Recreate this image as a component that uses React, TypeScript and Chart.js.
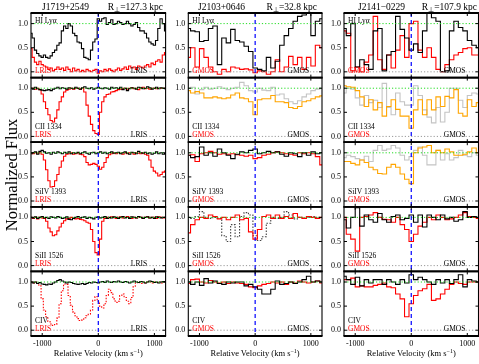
import React, { useEffect, useRef } from 'react';
import { Chart, registerables } from 'chart.js';
Chart.register(...registerables);

const FONT = '"Liberation Serif", "Times New Roman", serif';

// ---------- axis values ----------
const velFine = [
  -1200, -1160, -1120, -1080, -1040, -1000, -960, -920, -880, -840,
  -800, -760, -720, -680, -640, -600, -560, -520, -480, -440,
  -400, -360, -320, -280, -240, -200, -160, -120, -80, -40,
  0, 40, 80, 120, 160, 200, 240, 280, 320, 360,
  400, 440, 480, 520, 560, 600, 640, 680, 720, 760,
  800, 840, 880, 920, 960, 1000, 1040, 1080, 1120, 1160,
  1200,
];
const velCoarse = [
  -1200, -1120, -1040, -960, -880, -800, -720, -640, -560, -480,
  -400, -320, -240, -160, -80, 0, 80, 160, 240, 320,
  400, 480, 560, 640, 720, 800, 880, 960, 1040, 1120,
  1200,
];
const xTicks = [-1000, 0, 1000];
const yTicks = [0, 0.5, 1.0];
const sightlines = ['J1719+2549', 'J2103+0646', 'J2141\u22120229'];
const impactKpc = ['127.3', '32.8', '107.9'];
const lineNames = ['HI Ly\u03b1', 'CII 1334', 'SiIV 1393', 'SiII 1526', 'CIV'];
const instruments = ['LRIS', 'GMOS', 'GMOS'];

// ---------- J1719+2549 (fine grid) ----------
const j1719_HI_black = [
  0.80, 0.70, 0.45, 0.38, 0.33, 0.30, 0.35, 0.30, 0.28, 0.33,
  0.40, 0.45, 0.55, 0.60, 0.85, 0.95, 0.90, 1.00, 0.95, 0.80,
  0.75, 0.62, 0.60, 0.48, 0.30, 0.28, 0.25, 0.45, 0.62, 0.68,
  1.10, 1.05, 1.10, 1.12, 0.98, 1.02, 1.08, 0.98, 1.00, 1.05,
  1.02, 0.98, 1.00, 1.05, 1.00, 0.95, 0.98, 1.02, 0.92, 0.85,
  0.85, 0.80, 0.70, 0.62, 0.58, 0.55, 0.65, 0.90, 1.10, 1.00,
  0.85,
];
const j1719_HI_red = [
  0.48, 0.30, 0.20, 0.15, 0.22, 0.15, 0.12, 0.10, 0.05, 0.08,
  0.02, 0.05, 0.10, 0.05, 0.08, 0.03, 0.10, 0.05, 0.00, 0.08,
  0.02, 0.05, 0.00, 0.03, 0.00, 0.05, 0.02, 0.00, 0.03, 0.05,
  -0.03, 0.02, 0.00, 0.05, 0.02, 0.06, 0.03, 0.00, 0.04, 0.08,
  0.03, 0.06, 0.10, 0.05, 0.12, 0.08, 0.10, 0.05, 0.12, 0.10,
  0.08, 0.12, 0.15, 0.10, 0.18, 0.15, 0.22, 0.25, 0.20, 0.35,
  0.40,
];
const j1719_CII_black = [
  1.00, 0.98, 1.02, 0.99, 0.97, 0.96, 0.95, 0.96, 0.97, 0.95,
  0.98, 1.00, 1.02, 0.99, 1.01, 1.00, 0.98, 1.01, 1.00, 0.99,
  1.02, 1.00, 0.98, 1.01, 1.03, 1.00, 0.99, 1.01, 0.98, 1.00,
  1.02, 1.00, 0.99, 1.01, 1.00, 0.98, 1.02, 1.00, 1.01, 0.99,
  1.02, 0.97, 1.00, 0.95, 0.99, 1.01, 1.00, 0.98, 1.02, 1.01,
  0.99, 1.00, 1.03, 1.01, 0.98, 1.00, 1.02, 0.99, 1.01, 1.00,
  0.99,
];
const j1719_CII_red = [
  1.00, 1.00, 0.98, 1.00, 0.97, 0.88, 0.72, 0.58, 0.45, 0.33,
  0.30, 0.38, 0.55, 0.72, 0.82, 0.92, 0.96, 0.98, 1.00, 0.98,
  1.00, 1.00, 0.98, 1.00, 0.92, 0.65, 0.42, 0.25, 0.12, 0.06,
  0.04, 0.50, 0.72, 0.82, 0.87, 0.88, 0.92, 0.93, 0.95, 0.97,
  0.98, 0.99, 1.00, 0.98, 1.00, 1.01, 0.99, 1.00, 0.97, 1.00,
  1.02, 0.99, 1.00, 0.98, 1.00, 1.00, 0.99, 1.00, 1.00, 1.00,
  1.00,
];
const j1719_SiIV_black = [
  0.98, 1.00, 1.02, 0.97, 1.03, 1.05, 1.02, 0.99, 1.00, 0.97,
  1.01, 0.99, 1.02, 1.00, 0.98, 1.01, 0.99, 1.02, 0.98, 1.00,
  0.99, 1.01, 0.98, 1.00, 1.02, 0.99, 0.97, 1.00, 1.01, 0.98,
  1.00, 1.02, 0.99, 1.01, 0.98, 1.00, 1.02, 0.99, 1.00, 1.01,
  0.98, 1.00, 1.02, 0.99, 0.97, 1.01, 1.00, 0.98, 1.03, 1.00,
  0.99, 1.01, 0.98, 1.00, 0.97, 0.99, 1.02, 0.98, 1.00, 0.97,
  0.99,
];
const j1719_SiIV_red = [
  1.00, 0.98, 1.00, 0.99, 1.00, 0.97, 0.85, 0.65, 0.42, 0.29,
  0.30, 0.42, 0.55, 0.70, 0.83, 0.93, 0.97, 0.98, 1.00, 0.97,
  0.98, 1.00, 0.97, 0.96, 0.92, 0.80, 0.75, 0.76, 0.78, 0.76,
  0.72, 0.66, 0.70, 0.80, 0.90, 0.96, 0.98, 1.00, 0.98, 1.00,
  0.99, 0.97, 1.00, 0.98, 1.00, 1.00, 0.97, 1.00, 0.99, 0.98,
  1.00, 0.97, 0.95, 0.85, 0.70, 0.62, 0.58, 0.52, 0.55, 0.60,
  0.62,
];
const j1719_SiII_black = [
  1.00, 0.99, 1.01, 0.98, 1.00, 1.02, 0.99, 1.00, 0.98, 1.01,
  1.00, 0.99, 1.02, 1.00, 0.98, 0.99, 1.01, 0.96, 0.95, 0.98,
  1.00, 1.02, 0.99, 1.00, 1.01, 0.98, 1.00, 0.99, 0.97, 1.00,
  1.01, 0.99, 1.00, 1.02, 0.98, 1.00, 0.99, 1.01, 1.00, 0.98,
  1.00, 1.02, 0.99, 1.00, 0.98, 1.01, 1.00, 0.99, 1.02, 1.00,
  0.98, 1.00, 1.01, 0.99, 1.00, 0.98, 1.01, 1.00, 0.99, 1.00,
  1.00,
];
const j1719_SiII_red = [
  1.00, 0.98, 1.00, 0.97, 1.00, 0.99, 0.98, 0.92, 0.78, 0.70,
  0.62, 0.64, 0.72, 0.80, 0.88, 0.93, 0.97, 0.98, 1.00, 0.98,
  0.97, 0.98, 0.96, 0.95, 0.93, 0.90, 0.88, 0.75, 0.50, 0.27,
  0.22, 0.55, 0.92, 0.98, 1.00, 0.99, 1.01, 1.00, 0.98, 1.00,
  1.01, 0.99, 1.00, 1.02, 1.00, 0.98, 1.00, 0.99, 1.01, 1.00,
  0.98, 1.00, 1.01, 0.99, 1.00, 1.00, 0.98, 1.01, 1.00, 0.99,
  1.00,
];
const j1719_CIV_black = [
  1.00, 0.98, 1.00, 0.97, 0.99, 0.96, 0.95, 0.94, 0.96, 0.95,
  0.98, 1.00, 1.03, 1.05, 1.02, 1.00, 0.98, 1.00, 0.99, 0.97,
  0.96, 0.95, 0.96, 0.97, 0.95, 0.97, 0.99, 0.98, 1.00, 0.99,
  0.98, 1.00, 1.01, 0.99, 1.02, 1.00, 0.99, 1.01, 1.00, 1.02,
  1.00, 0.99, 1.01, 1.00, 0.98, 1.00, 1.02, 1.00, 0.99, 1.01,
  1.00, 0.98, 1.00, 1.02, 1.01, 0.99, 1.00, 0.98, 1.00, 1.01,
  1.00,
];
const j1719_CIV_red = [
  1.00, 0.98, 1.00, 0.97, 0.92, 0.65, 0.42, 0.28, 0.18, 0.13,
  0.10, 0.12, 0.25, 0.55, 0.82, 0.96, 0.95, 0.72, 0.52, 0.38,
  0.30, 0.24, 0.20, 0.21, 0.26, 0.30, 0.33, 0.42, 0.62, 0.70,
  0.60, 0.50, 0.46, 0.55, 0.72, 0.85, 0.78, 0.65, 0.58, 0.60,
  0.72, 0.75, 0.68, 0.60, 0.55, 0.68, 0.90, 0.98, 1.00, 0.97,
  1.00, 0.98, 1.00, 1.00, 0.98, 1.00, 0.99, 1.00, 0.98, 1.00,
  1.00,
];

// ---------- J2103+0646 (coarse grid) ----------
const j2103_HI_black = [
  0.90, 0.85, 0.83, 0.63, 0.65, 0.90, 0.95, 0.15, 0.70, 0.60,
  0.88, 0.65, 0.62, 0.53, 0.42, 0.08, 0.05, 0.02, 0.30, 0.08,
  0.22, 0.55, 0.75, 0.90, 1.05, 1.15, 1.18, 1.30, 0.75, 1.05,
  1.10,
];
const j2103_HI_red = [
  0.30, 0.50, 0.10, 0.48, 0.30, 0.10, 0.00, -0.05, 0.05, 0.00,
  0.10, 0.08, 0.05, 0.06, 0.04, -0.02, 0.02, 0.00, -0.05, 0.00,
  0.25, 0.00, 0.10, 0.32, 0.15, 0.30, 0.05, 0.30, 0.12, 0.55,
  0.50,
];
const j2103_CII_orange = [
  0.95, 0.90, 0.93, 0.90, 0.80, 0.80, 0.82, 0.80, 0.78, 0.80,
  0.86, 0.90, 0.80, 0.78, 0.72, 0.45, 0.76, 0.78, 0.78, 0.85,
  0.72, 0.72, 0.70, 0.60, 0.58, 0.62, 0.72, 0.74, 0.78, 0.82,
  0.84,
];
const j2103_CII_grey = [
  1.00, 1.02, 0.88, 0.97, 1.02, 0.98, 1.00, 1.03, 1.00, 0.97,
  1.00, 1.02, 1.12, 1.05, 0.95, 0.92, 1.00, 0.96, 0.95, 1.02,
  0.86, 0.88, 0.78, 0.72, 0.68, 0.74, 0.82, 0.88, 0.95, 0.98,
  1.00,
];
const j2103_SiIV_black = [
  0.95, 0.90, 0.92, 1.12, 0.95, 1.00, 0.93, 1.08, 1.00, 0.95,
  0.88, 0.97, 1.02, 1.00, 1.05, 1.08, 0.98, 1.00, 1.03, 1.00,
  1.02, 0.97, 0.93, 1.00, 0.98, 0.92, 1.00, 0.95, 1.02, 0.98,
  1.00,
];
const j2103_SiIV_red = [
  0.95, 0.96, 0.82, 0.98, 1.00, 1.03, 1.00, 0.97, 0.98, 0.97,
  0.98, 0.96, 0.95, 0.93, 0.95, 0.88, 0.90, 0.95, 0.97, 1.00,
  1.02, 1.00, 0.98, 0.97, 0.95, 1.00, 0.98, 1.00, 0.98, 0.92,
  0.75,
];
const j2103_SiII_red = [
  0.68, 0.85, 0.95, 1.00, 0.98, 1.05, 1.02, 0.97, 1.00, 0.95,
  1.00, 1.05, 0.95, 0.98, 0.70, 0.55, 0.75, 1.02, 1.05, 0.98,
  1.05, 0.98, 1.02, 0.98, 1.08, 1.00, 0.98, 1.02, 1.00, 0.98,
  1.00,
];
const j2103_SiII_dotted = [
  1.00, 0.98, 1.02, 1.12, 1.00, 0.98, 1.00, 0.98, 0.62, 0.50,
  0.85, 0.60, 1.02, 1.10, 1.05, 0.62, 0.52, 0.60, 0.88, 1.00,
  0.98, 1.00, 1.12, 1.05, 0.97, 1.00, 0.98, 1.00, 1.02, 1.00,
  1.00,
];
const j2103_CIV_black = [
  1.00, 0.95, 1.00, 0.93, 1.07, 0.98, 1.02, 0.97, 0.95, 1.00,
  0.98, 1.00, 1.00, 0.92, 0.95, 0.90, 0.85, 0.75, 0.75, 0.85,
  1.02, 0.95, 0.97, 1.00, 0.97, 1.00, 1.05, 1.12, 1.00, 1.02,
  1.00,
];
const j2103_CIV_red = [
  0.97, 1.05, 1.06, 1.00, 0.98, 1.03, 1.00, 0.98, 1.00, 0.97,
  1.00, 0.98, 0.97, 0.95, 0.90, 0.88, 0.92, 0.95, 0.97, 1.00,
  0.98, 1.00, 0.95, 1.00, 0.98, 1.02, 1.00, 0.98, 1.00, 1.02,
  0.98,
];

// ---------- J2141-0229 (coarse grid) ----------
const j2141_HI_black = [
  0.90, 0.75, 1.00, 0.10, 0.25, 0.15, 0.05, 0.85, 0.90, 0.02,
  0.35, 0.42, 1.15, 0.88, 0.70, 0.45, 0.58, 0.40, 0.85, 1.22,
  1.12, 1.05, 0.00, 0.02, 0.85, 1.05, 0.92, 0.85, 0.65, 0.55,
  0.50,
];
const j2141_HI_red = [
  0.85, 0.80, 0.02, 0.10, 0.00, 0.20, 0.35, 1.15, 0.25, 0.05,
  0.35, 0.08, 0.45, 0.75, 0.30, 1.00, 1.05, 0.45, 0.30, 0.50,
  0.30, 0.05, 0.00, 0.15, 0.25, 0.35, 0.40, 0.48, 0.50, 0.35,
  0.35,
];
const j2141_CII_orange = [
  1.05, 1.03, 1.02, 0.95, 0.82, 0.62, 0.76, 0.55, 0.70, 0.42,
  0.62, 0.76, 0.56, 0.42, 0.42, 0.17, 0.55, 0.76, 0.45, 0.76,
  0.55, 0.82, 0.62, 0.83, 0.80, 0.97, 0.48, 0.42, 0.76, 0.62,
  0.70,
];
const j2141_CII_grey = [
  0.90, 1.00, 0.98, 0.80, 0.65, 0.85, 0.70, 0.75, 0.60, 1.10,
  0.60, 0.45, 0.90, 0.72, 0.65, 0.65, 1.05, 0.85, 0.55, 0.40,
  0.28, 0.60, 0.30, 0.50, 1.00, 1.00, 0.75, 0.60, 0.85, 0.90,
  0.88,
];
const j2141_SiIV_orange = [
  0.82, 0.82, 0.78, 0.75, 0.85, 0.80, 0.70, 0.65, 0.57, 0.56,
  0.70, 0.76, 0.70, 0.56, 0.45, 0.36, 1.00, 1.10, 1.12, 1.15,
  1.00, 1.05, 1.00, 1.08, 1.02, 0.95, 0.95, 0.97, 1.02, 1.10,
  1.00,
];
const j2141_SiIV_grey = [
  0.90, 0.95, 0.92, 0.88, 0.85, 0.93, 0.82, 1.05, 1.15, 1.05,
  1.08, 1.15, 1.10, 0.95, 0.85, 0.92, 1.05, 1.12, 0.95, 0.75,
  0.75, 1.05, 0.85, 0.98, 0.85, 0.90, 1.05, 0.95, 0.92, 1.00,
  0.95,
];
const j2141_SiII_black = [
  0.95, 0.78, 1.00, 1.20, 0.82, 1.05, 0.95, 0.90, 1.08, 0.95,
  0.90, 1.02, 1.05, 0.95, 0.98, 1.05, 0.90, 1.05, 0.80, 1.05,
  1.00, 0.95, 1.05, 0.97, 1.00, 0.92, 0.95, 1.12, 1.00, 1.02,
  1.00,
];
const j2141_SiII_red = [
  1.00, 0.65, 0.55, 0.30, 1.00, 1.02, 1.05, 1.10, 1.00, 0.96,
  0.95, 0.90, 1.00, 0.85, 0.75, 0.50, 0.65, 0.82, 0.90, 1.00,
  0.95, 1.05, 1.00, 0.95, 0.97, 1.00, 1.05, 1.10, 1.02, 1.00,
  0.98,
];
const j2141_CIV_black = [
  1.12, 1.05, 0.95, 1.10, 0.92, 1.05, 0.98, 1.05, 1.05, 0.95,
  1.05, 1.00, 0.95, 1.05, 0.98, 1.15, 1.05, 1.10, 1.05, 1.00,
  0.95, 1.05, 0.98, 1.05, 0.97, 1.05, 1.15, 0.90, 1.05, 1.02,
  1.00,
];
const j2141_CIV_red = [
  1.05, 1.05, 1.08, 0.90, 0.92, 0.90, 0.90, 0.93, 0.95, 0.98,
  0.90, 0.88, 0.75, 0.65, 0.28, 0.55, 0.72, 0.82, 0.86, 0.95,
  0.62, 0.65, 0.75, 0.85, 0.95, 1.00, 0.97, 0.95, 1.00, 1.00,
  1.00,
];

// ---------- styles / layout ----------
const BLACK = '#000000';
const RED = '#ff0000';
const ORANGE = '#ffa500';
const GREY = '#c4c4c4';
const DOTGREY = '#444444';
const DOT = [1.5, 1.5];

type Series = { data: number[]; color: string; dash?: number[] };
type Column = {
  key: string;
  canvasLeft: number;
  canvasWidth: number;
  axisWidth: number;
  padRight: number;
  titleLeft: number;
  rRight: number;
  vel: number[];
  panels: Series[][];
};

const columns: Column[] = [
  {
    key: 'c0', canvasLeft: 0, canvasWidth: 170, axisWidth: 31, padRight: 4.4,
    titleLeft: 42, rRight: 163, vel: velFine,
    panels: [
      [{ data: j1719_HI_black, color: BLACK }, { data: j1719_HI_red, color: RED }],
      [{ data: j1719_CII_black, color: BLACK }, { data: j1719_CII_red, color: RED }],
      [{ data: j1719_SiIV_black, color: BLACK }, { data: j1719_SiIV_red, color: RED }],
      [{ data: j1719_SiII_black, color: BLACK }, { data: j1719_SiII_red, color: RED }],
      [{ data: j1719_CIV_black, color: BLACK }, { data: j1719_CIV_red, color: RED, dash: DOT }],
    ],
  },
  {
    key: 'c1', canvasLeft: 168, canvasWidth: 160, axisWidth: 20.3, padRight: 6,
    titleLeft: 198, rRight: 317, vel: velCoarse,
    panels: [
      [{ data: j2103_HI_black, color: BLACK }, { data: j2103_HI_red, color: RED }],
      [{ data: j2103_CII_orange, color: ORANGE }, { data: j2103_CII_grey, color: GREY }],
      [{ data: j2103_SiIV_black, color: BLACK }, { data: j2103_SiIV_red, color: RED }],
      [{ data: j2103_SiII_red, color: RED }, { data: j2103_SiII_dotted, color: DOTGREY, dash: DOT }],
      [{ data: j2103_CIV_black, color: BLACK }, { data: j2103_CIV_red, color: RED }],
    ],
  },
  {
    key: 'c2', canvasLeft: 324, canvasWidth: 155, axisWidth: 20, padRight: 0.5,
    titleLeft: 358, rRight: 477, vel: velCoarse,
    panels: [
      [{ data: j2141_HI_black, color: BLACK }, { data: j2141_HI_red, color: RED }],
      [{ data: j2141_CII_orange, color: ORANGE }, { data: j2141_CII_grey, color: GREY }],
      [{ data: j2141_SiIV_orange, color: ORANGE }, { data: j2141_SiIV_grey, color: GREY }],
      [{ data: j2141_SiII_black, color: BLACK }, { data: j2141_SiII_red, color: RED }],
      [{ data: j2141_CIV_black, color: BLACK }, { data: j2141_CIV_red, color: RED }],
    ],
  },
];

function makePanelPlugin(col: Column, inst: string) {
  return {
    id: 'panels_' + col.key,
    afterDatasetsDraw(chart: any) {
      const { ctx, chartArea } = chart;
      const xs = chart.scales.x;
      const L = chartArea.left;
      const R = chartArea.right;
      ctx.save();
      // reference lines at 1 and 0
      col.panels.forEach((_p, i) => {
        const ys = chart.scales['y' + i];
        ctx.lineWidth = 1;
        ctx.setLineDash([1.2, 2]);
        ctx.strokeStyle = '#22dd22';
        const y1 = ys.getPixelForValue(1);
        ctx.beginPath(); ctx.moveTo(L, y1); ctx.lineTo(R, y1); ctx.stroke();
        ctx.strokeStyle = '#999999';
        const y0 = ys.getPixelForValue(0);
        ctx.beginPath(); ctx.moveTo(L, y0); ctx.lineTo(R, y0); ctx.stroke();
      });
      // systemic velocity line
      const x0 = xs.getPixelForValue(0);
      ctx.setLineDash([4, 3]);
      ctx.strokeStyle = '#0000ff';
      ctx.lineWidth = 1.2;
      ctx.beginPath(); ctx.moveTo(x0, chartArea.top); ctx.lineTo(x0, chartArea.bottom); ctx.stroke();
      ctx.setLineDash([]);
      // frames, ticks, labels
      col.panels.forEach((_p, i) => {
        const ys = chart.scales['y' + i];
        const T = ys.top;
        const B = ys.bottom;
        ctx.strokeStyle = '#000';
        ctx.lineWidth = 1.1;
        ctx.beginPath(); ctx.moveTo(L, T); ctx.lineTo(L, B); ctx.moveTo(R, T); ctx.lineTo(R, B); ctx.stroke();
        ctx.lineWidth = 1.8;
        ctx.beginPath(); ctx.moveTo(L - 0.5, T); ctx.lineTo(R + 0.5, T); ctx.moveTo(L - 0.5, B); ctx.lineTo(R + 0.5, B); ctx.stroke();
        ctx.lineWidth = 1;
        ctx.beginPath();
        xTicks.forEach((v) => {
          const x = xs.getPixelForValue(v);
          ctx.moveTo(x, T); ctx.lineTo(x, T + 3);
          ctx.moveTo(x, B); ctx.lineTo(x, B - 3);
        });
        yTicks.forEach((v) => {
          const y = ys.getPixelForValue(v);
          ctx.moveTo(L, y); ctx.lineTo(L + 3, y);
          ctx.moveTo(R, y); ctx.lineTo(R - 3, y);
        });
        ctx.stroke();
        ctx.font = `7.5px ${FONT}`;
        ctx.textBaseline = 'middle';
        ctx.textAlign = 'left';
        ctx.fillStyle = '#000';
        if (i === 0) {
          ctx.fillText(lineNames[i], L + 4, T + 8);
        } else {
          ctx.fillText(lineNames[i], L + 4, B - 15);
        }
        ctx.fillText(inst, xs.getPixelForValue(580), B - 7);
        ctx.fillStyle = RED;
        ctx.fillText(inst, L + 4, B - 7);
      });
      ctx.restore();
    },
  };
}

function ColumnChart({ col, inst }: { col: Column; inst: string }) {
  const ref = useRef<HTMLCanvasElement | null>(null);
  useEffect(() => {
    if (!ref.current) return;
    const datasets: any[] = [];
    col.panels.forEach((series, i) => {
      series.forEach((s) => {
        datasets.push({
          data: col.vel.map((v, k) => ({ x: v, y: s.data[k] })),
          yAxisID: 'y' + i,
          xAxisID: 'x',
          borderColor: s.color,
          borderWidth: 1.1,
          borderDash: s.dash || [],
          pointRadius: 0,
          pointHoverRadius: 0,
          stepped: 'middle',
          fill: false,
        });
      });
    });
    const scales: any = {
      x: {
        type: 'linear',
        position: 'bottom',
        min: -1200,
        max: 1200,
        afterBuildTicks: (s: any) => { s.ticks = xTicks.map((v) => ({ value: v })); },
        afterFit: (s: any) => { s.height = 28; },
        ticks: {
          font: { family: FONT, size: 8 },
          color: '#000',
          padding: 3,
          maxRotation: 0,
          autoSkip: false,
          callback: (v: any) => String(v),
        },
        grid: { display: false, drawTicks: false },
        border: { display: false },
      },
    };
    // bottom panel first: later-defined stacked axes are placed on top
    for (let i = col.panels.length - 1; i >= 0; i--) {
      scales['y' + i] = {
        type: 'linear',
        position: 'left',
        stack: 'panels',
        stackWeight: 1,
        min: -0.12,
        max: 1.22,
        afterBuildTicks: (s: any) => { s.ticks = yTicks.map((v) => ({ value: v })); },
        afterFit: (s: any) => { s.width = col.axisWidth; },
        ticks: {
          font: { family: FONT, size: 8 },
          color: '#000',
          padding: 3,
          autoSkip: false,
          callback: (v: any) => Number(v).toFixed(1),
        },
        grid: { display: false, drawTicks: false },
        border: { display: false },
      };
    }
    const chart = new Chart(ref.current, {
      type: 'line',
      data: { datasets },
      options: {
        responsive: false,
        maintainAspectRatio: false,
        animation: false,
        devicePixelRatio: 1,
        layout: { padding: { left: 0, right: col.padRight, top: 13, bottom: 0 } },
        plugins: { legend: { display: false }, tooltip: { enabled: false }, title: { display: false } },
        events: [],
        scales,
      } as any,
      plugins: [makePanelPlugin(col, inst)],
    });
    return () => chart.destroy();
  }, [col, inst]);
  return (
    <canvas
      ref={ref}
      width={col.canvasWidth}
      height={364}
      style={{ position: 'absolute', left: col.canvasLeft, top: 0, width: col.canvasWidth, height: 364 }}
    />
  );
}

export default function App() {
  return (
    <div style={{ position: 'absolute', left: 0, top: 0, width: 479, height: 364, background: '#fff', fontFamily: FONT, color: '#000', overflow: 'hidden' }}>
      {columns.map((c, i) => (
        <ColumnChart key={c.key} col={c} inst={instruments[i]} />
      ))}
      {columns.map((c, i) => {
        const plotLeft = c.canvasLeft + c.axisWidth;
        const plotW = c.canvasWidth - c.axisWidth - c.padRight;
        const center = plotLeft + plotW / 2;
        return (
          <React.Fragment key={'t' + c.key}>
            <div style={{ position: 'absolute', left: c.titleLeft, top: 1, fontSize: '9.5px', lineHeight: '12px', whiteSpace: 'nowrap' }}>
              {sightlines[i]}
            </div>
            <div style={{ position: 'absolute', right: 479 - c.rRight, top: 1, fontSize: '9.5px', lineHeight: '12px', whiteSpace: 'nowrap' }}>
              R<span style={{ fontSize: '7px', position: 'relative', top: '2px' }}>{'\u22a5'}</span>={impactKpc[i]} kpc
            </div>
            <div style={{ position: 'absolute', left: center - 80, width: 160, top: 347, fontSize: '8.5px', lineHeight: '12px', textAlign: 'center', whiteSpace: 'nowrap' }}>
              Relative Velocity (km s<span style={{ fontSize: '6px', position: 'relative', top: '-3px' }}>{'\u22121'}</span>)
            </div>
          </React.Fragment>
        );
      })}
      <div style={{ position: 'absolute', left: 11.5 - 100, top: 175 - 10, width: 200, height: 20, lineHeight: '20px', fontSize: '16.5px', textAlign: 'center', transform: 'rotate(-90deg)', whiteSpace: 'nowrap' }}>
        Normalized Flux
      </div>
    </div>
  );
}
